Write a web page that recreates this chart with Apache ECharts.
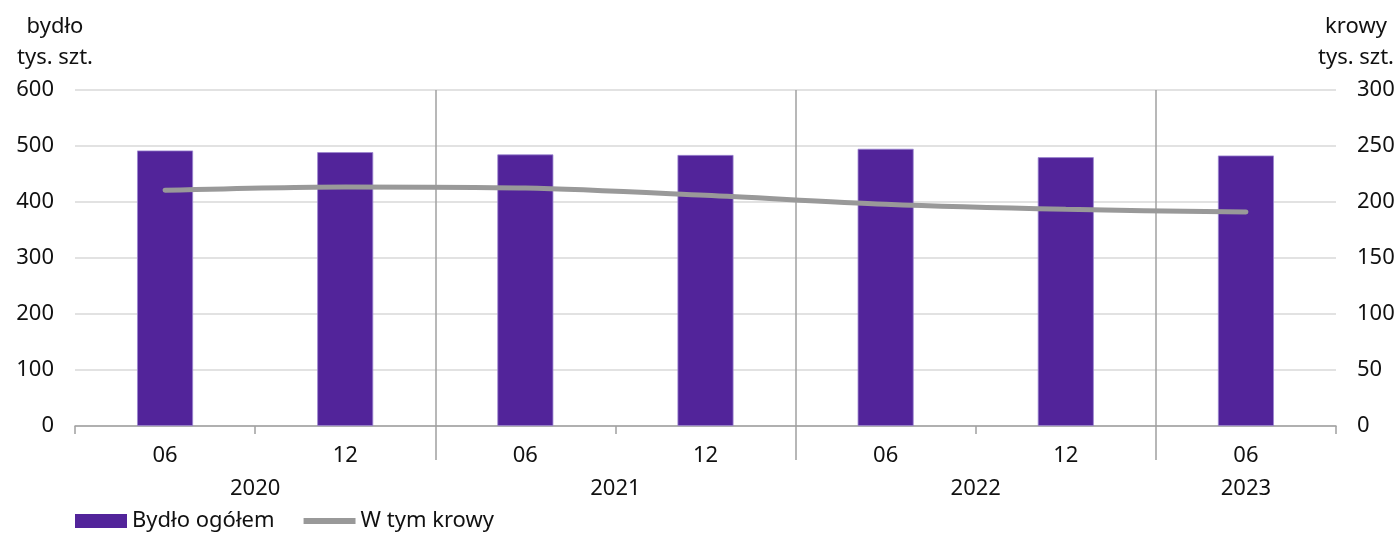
<!DOCTYPE html>
<html>
<head>
<meta charset="utf-8">
<script src="https://cdn.jsdelivr.net/npm/echarts@6/dist/echarts.min.js"></script>
<style>html,body{margin:0;padding:0;background:#fff}#c{width:1400px;height:533px}</style>
</head>
<body>
<div id="c"></div>
<script>
const months = ['06','12','06','12','06','12','06'];
const years = ['2020','2021','2022','2023'];
const yearPos = [2, 6, 10, 13]; // in half-category units
const bydlo = [492, 489, 485, 484, 495, 480, 483];
const krowy = [210.5, 213.5, 212.5, 206, 198, 193.5, 191];
const leftTicks = [0, 100, 200, 300, 400, 500, 600];
const rightTicks = [0, 50, 100, 150, 200, 250, 300];
const yearBoundaries = [4, 8, 12]; // in half-category units
// 15 half-category points (0..14) for the year separators
const halfSlots = Array.from({length: months.length * 2 + 1}, (_, i) => String(i));

const FONT = 'Noto Sans';
const FS = 22;
const chart = echarts.init(document.getElementById('c'));
chart.setOption({
  animation: false,
  textStyle: {fontFamily: FONT},
  grid: {left: 75, right: 64, top: 90, bottom: 107},
  legend: {
    left: 70, bottom: -4, itemWidth: 52, itemHeight: 14, itemGap: 29,
    textStyle: {fontFamily: FONT, fontSize: FS, color: '#111'},
    data: [
      {name: 'Bydło ogółem', icon: 'rect', itemStyle: {borderWidth: 0}},
      {name: 'W tym krowy', icon: 'path://M0,0L52,0L52,0.01L0,0.01Z M0,4L52,4L52,10L0,10Z M0,14L52,14L52,14.01L0,14.01Z'}
    ]
  },
  xAxis: [
    {
      type: 'category', data: months, position: 'bottom',
      axisLine: {lineStyle: {color: '#a0a0a0', width: 1.5}},
      axisTick: {show: true, interval: 0, length: 8, lineStyle: {color: '#a0a0a0', width: 1.5}},
      axisLabel: {fontFamily: FONT, fontSize: FS, color: '#111', margin: 19},
      splitLine: {show: false}
    },
    {
      type: 'category', data: halfSlots, boundaryGap: false, position: 'bottom',
      axisLine: {show: false},
      axisTick: {show: true, length: 34, interval: (i) => yearBoundaries.includes(i), lineStyle: {color: '#a0a0a0', width: 1.5}},
      axisLabel: {show: false},
      splitLine: {show: true, interval: (i) => yearBoundaries.includes(i), lineStyle: {color: '#a0a0a0', width: 1.5}}
    },
    {
      type: 'value', min: 0, max: 14, interval: 1, position: 'bottom',
      axisLine: {show: false}, axisTick: {show: false}, splitLine: {show: false},
      axisLabel: {
        fontFamily: FONT, fontSize: FS, color: '#111', margin: 52,
        showMinLabel: true, showMaxLabel: true,
        formatter: (v) => { const k = yearPos.indexOf(v); return k >= 0 ? years[k] : ''; }
      }
    }
  ],
  yAxis: [
    {
      type: 'value', min: 0, max: 600, interval: 100,
      name: 'bydło\ntys. szt.', nameLocation: 'end', nameGap: 17,
      nameTextStyle: {fontFamily: FONT, fontSize: FS, color: '#111', align: 'center', lineHeight: 31, padding: [0, 40, 0, 0]},
      axisLine: {show: false}, axisTick: {show: false},
      axisLabel: {fontFamily: FONT, fontSize: FS, color: '#111', margin: 21, formatter: (v) => leftTicks.includes(v) ? String(v) : ''},
      splitLine: {lineStyle: {color: '#d9d9d9', width: 1.5}}
    },
    {
      type: 'value', min: 0, max: 300, interval: 50, position: 'right',
      name: 'krowy\ntys. szt.', nameLocation: 'end', nameGap: 17,
      nameTextStyle: {fontFamily: FONT, fontSize: FS, color: '#111', align: 'center', lineHeight: 31, padding: [0, 0, 0, 40]},
      axisLine: {show: false}, axisTick: {show: false},
      axisLabel: {fontFamily: FONT, fontSize: FS, color: '#111', margin: 21, formatter: (v) => rightTicks.includes(v) ? String(v) : ''},
      splitLine: {show: false}
    }
  ],
  series: [
    {
      name: 'Bydło ogółem', type: 'bar', data: bydlo, barWidth: 56,
      xAxisIndex: 0, yAxisIndex: 0,
      itemStyle: {color: '#52249a', borderColor: '#9c86cf', borderWidth: 0.8}
    },
    {
      name: 'W tym krowy', type: 'line', data: krowy, xAxisIndex: 0, yAxisIndex: 1,
      smooth: 0.3, symbol: 'none', showSymbol: false,
      lineStyle: {color: '#999999', width: 5, cap: 'round'},
      itemStyle: {color: '#999999'}
    }
  ]
});
</script>
</body>
</html>
